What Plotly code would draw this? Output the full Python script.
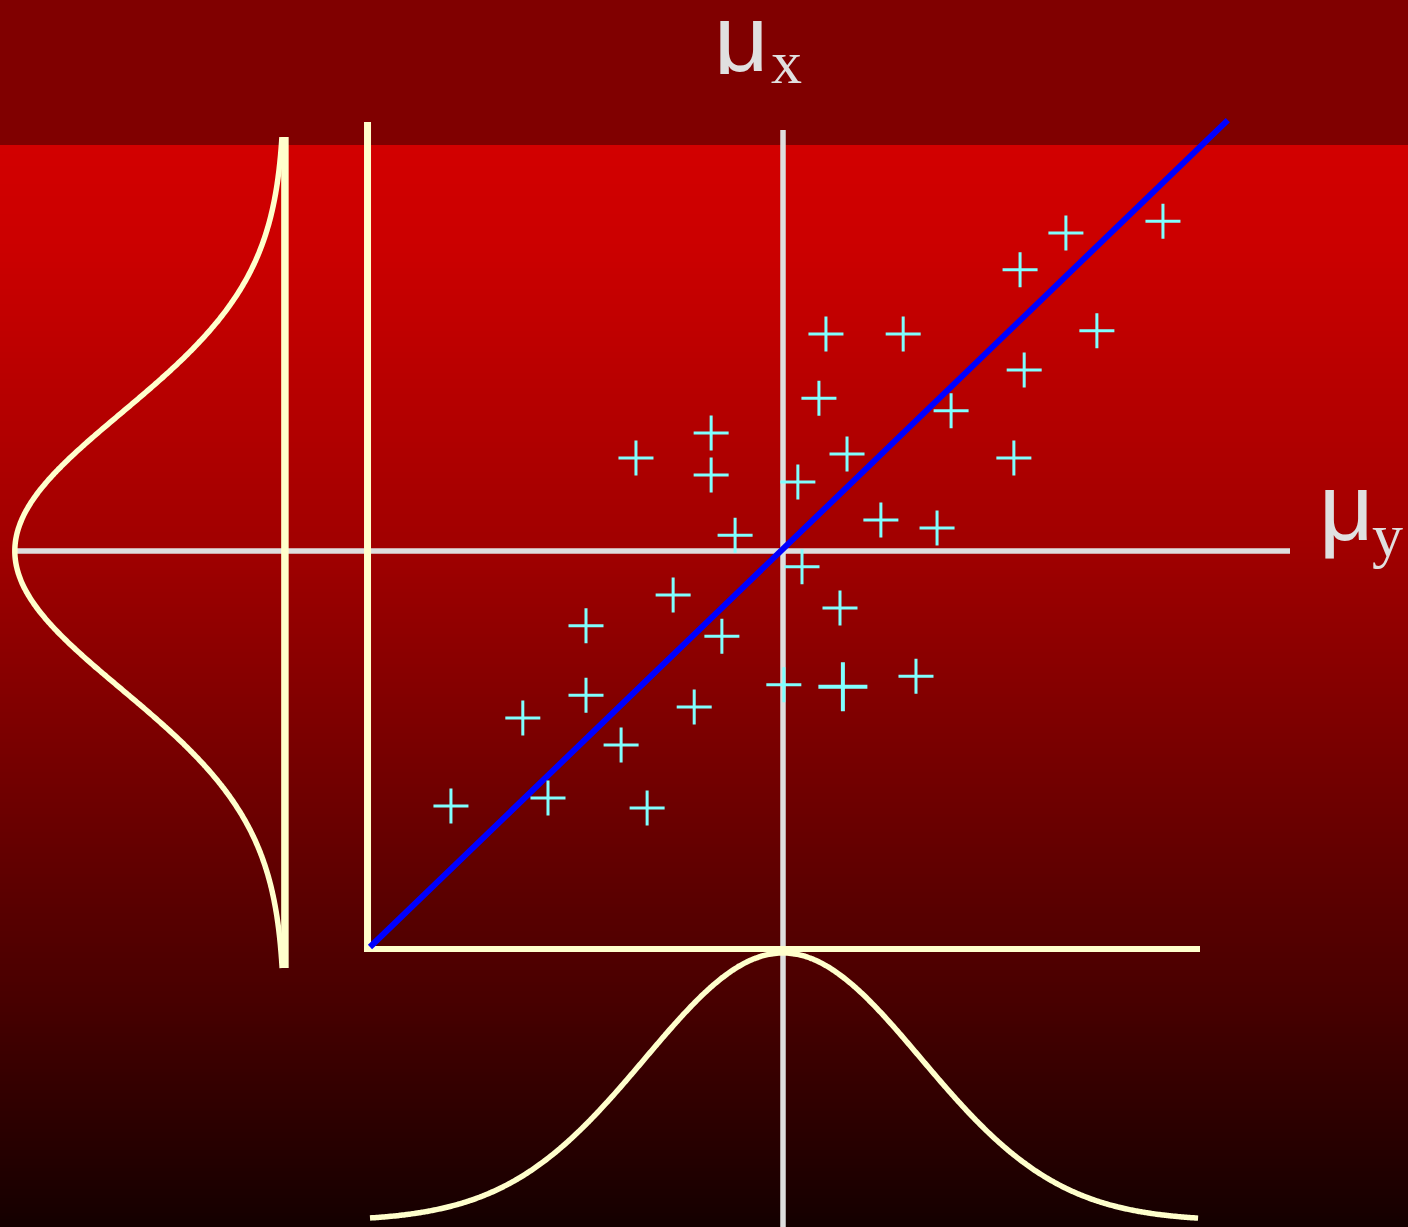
import numpy as np
import plotly.graph_objects as go

# ---------------- data ----------------
# sample points (x, y) in data units (origin at the corner of the yellow axes)
pts_x = [19.20, 16.85, 15.74, 11.04, 12.91, 17.60, 15.84, 10.87, 14.07, 8.26,
         6.44, 11.55, 15.59, 8.26, 10.36, 12.37, 13.73, 8.84, 10.46, 7.34,
         11.38, 5.23, 8.52, 10.02, 13.22, 5.23, 7.85, 3.70, 6.08, 4.31,
         1.96, 6.71]
pts_y = [18.33, 18.03, 17.10, 15.48, 15.48, 15.56, 14.57, 13.86, 13.54, 12.98,
         12.35, 12.45, 12.35, 11.92, 11.74, 10.78, 10.58, 10.40, 9.60, 8.89,
         8.56, 8.11, 7.85, 6.62, 6.84, 6.36, 6.06, 5.78, 5.10, 3.76,
         3.56, 3.51]
# one emphasised point
hi_x = [11.45]
hi_y = [6.57]

# regression line end points
line_x = [0.0, 20.77]
line_y = [0.0, 20.88]

# means
mu_x = 10.0
mu_y = 10.0
# marginal normal curves parameters
sigma_x = 3.34
sigma_y = 3.48
bottom_base, bottom_peak = -6.92, -0.15
left_base, left_peak = -2.06, -8.60
bottom_span = [0.0, 20.05]
left_span = [-0.53, 20.45]

labels = ["μ", "x", "μ", "y"]

# ---------------- figure geometry ----------------
W, H = 1408, 1227
X0, Y0 = 370.0, 947.0     # pixel position of data origin
SX, SY = 41.3, 39.6       # pixels per data unit
xr = [(0 - X0) / SX, (W - X0) / SX]
yr = [(Y0 - H) / SY, Y0 / SY]

YELLOW = "#ffffcc"
WHITE = "#dedede"
CYAN = "#80ffff"

fig = go.Figure()

# white mean lines
fig.add_trace(go.Scatter(x=[mu_x, mu_x], y=[(Y0 - 130) / SY, yr[0] - 1], mode="lines",
                         line=dict(color=WHITE, width=5.5), hoverinfo="skip"))
fig.add_trace(go.Scatter(x=[(15 - X0) / SX, (1290 - X0) / SX], y=[mu_y, mu_y], mode="lines",
                         line=dict(color=WHITE, width=5.5), hoverinfo="skip"))

# yellow axes
fig.add_trace(go.Scatter(x=[-0.06, -0.06], y=[(Y0 - 122) / SY, (Y0 - 952) / SY], mode="lines",
                         line=dict(color=YELLOW, width=7), hoverinfo="skip"))
fig.add_trace(go.Scatter(x=[(364 - X0) / SX, (1200 - X0) / SX], y=[-0.05, -0.05], mode="lines",
                         line=dict(color=YELLOW, width=6), hoverinfo="skip"))
# left baseline
fig.add_trace(go.Scatter(x=[left_base, left_base], y=[(Y0 - 137) / SY, (Y0 - 968) / SY], mode="lines",
                         line=dict(color=YELLOW, width=7.5), hoverinfo="skip"))

# bottom marginal curve
bx = np.linspace(bottom_span[0], bottom_span[1], 400)
by = bottom_base + (bottom_peak - bottom_base) * np.exp(-0.5 * ((bx - mu_x) / sigma_x) ** 2)
fig.add_trace(go.Scatter(x=bx, y=by, mode="lines",
                         line=dict(color=YELLOW, width=5.5, simplify=False, shape="spline"),
                         hoverinfo="skip"))
# left marginal curve
ly = np.linspace(left_span[0], left_span[1], 400)
lx = left_base + (left_peak - left_base) * np.exp(-0.5 * ((ly - mu_y) / sigma_y) ** 2)
fig.add_trace(go.Scatter(x=lx, y=ly, mode="lines",
                         line=dict(color=YELLOW, width=5.5, simplify=False, shape="spline"),
                         hoverinfo="skip"))

# blue regression line
fig.add_trace(go.Scatter(x=line_x, y=line_y, mode="lines", line=dict(color="#0000ff", width=6),
                         hoverinfo="skip"))

# points
fig.add_trace(go.Scatter(x=pts_x, y=pts_y, mode="markers",
                         marker=dict(symbol="cross-thin", size=25,
                                     line=dict(color=CYAN, width=3)),
                         hoverinfo="skip"))
fig.add_trace(go.Scatter(x=hi_x, y=hi_y, mode="markers",
                         marker=dict(symbol="cross-thin", size=35,
                                     line=dict(color=CYAN, width=4)),
                         hoverinfo="skip"))

# background gradient bands
stops = [(145, 210), (250, 203), (551, 160), (900, 90), (1000, 72), (1227, 20)]
sp = np.array([s[0] for s in stops], float)
sv = np.array([s[1] for s in stops], float)
shapes = [dict(type="rect", xref="paper", yref="paper", x0=0, x1=1,
               y0=1 - 0 / H, y1=1 - 146 / H, fillcolor="#800000", line=dict(width=0),
               layer="below")]
step = 3
for top in range(145, H, step):
    bot = min(top + step, H)
    v = int(round(np.interp(top + step / 2, sp, sv)))
    shapes.append(dict(type="rect", xref="paper", yref="paper", x0=0, x1=1,
                       y0=1 - (bot + 0.5) / H, y1=1 - top / H,
                       fillcolor=f"rgb({v},0,0)", line=dict(width=0), layer="below"))

def ann(txt, px, py, font, size, h=None):
    d = dict(text=txt, xref="paper", yref="paper", x=px / W, y=1 - py / H,
             xanchor="center", yanchor="middle", showarrow=False,
             font=dict(family=font, size=size, color="#e0e0e0"))
    if h is not None:
        d["height"] = h
        d["valign"] = "middle"
    return d

annotations = [
    ann(labels[0], 741, 38, "Liberation Sans", 95, 72),
    ann(labels[1], 786, 62, "Liberation Serif", 62),
    ann(labels[2], 1346, 507, "Liberation Sans", 95),
    ann(labels[3], 1387, 535, "Liberation Serif", 62),
]

fig.update_layout(
    width=W, height=H, margin=dict(l=0, r=0, t=0, b=0),
    paper_bgcolor="#800000", plot_bgcolor="rgba(0,0,0,0)",
    showlegend=False, shapes=shapes, annotations=annotations,
    xaxis=dict(range=xr, visible=False, fixedrange=True),
    yaxis=dict(range=yr, visible=False, fixedrange=True),
)
fig.write_html("out.html", config={"displayModeBar": False},
               post_script="document.body.style.margin='0';document.body.style.overflow='hidden';")
